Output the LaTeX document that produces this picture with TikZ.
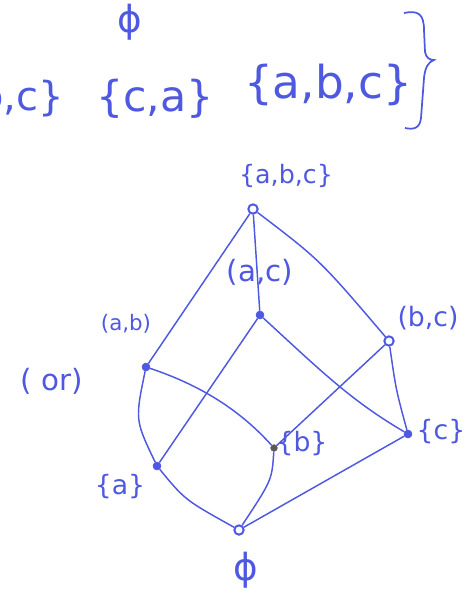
\documentclass[tikz,border=0pt]{standalone}
\usepackage{fontspec}
\setmainfont{DejaVu Sans}
\definecolor{hb}{RGB}{78,88,225}
\begin{document}
\begin{tikzpicture}[x=0.75pt,y=-0.75pt,
  lbl/.style={text=hb,inner sep=0pt},
  edge/.style={draw=hb,line width=1.1pt},
  dotn/.style={circle,fill=hb,draw=hb,minimum size=6pt,inner sep=0pt},
  ringn/.style={circle,fill=white,draw=hb,line width=1.5pt,minimum size=7pt,inner sep=0pt}]
\useasboundingbox (0,0) rectangle (469,606);
\clip (0,0) rectangle (469,606);
% top text
\node[lbl,font=\fontsize{28}{30}\selectfont] (phitop) at (130,22) {ϕ};
\node[lbl,font=\fontsize{30}{32}\selectfont,anchor=east] (sbc) at (64,99) {\{b,c\}};
\node[lbl,font=\fontsize{32}{34}\selectfont] (sca) at (155,99) {\{c,a\}};
\node[lbl,font=\fontsize{34}{36}\selectfont] (sabc) at (328,85) {\{a,b,c\}};
\draw[hb,line width=1.3pt] (404,13) .. controls (418,10) and (424,14) .. (424,30)
  -- (425,52) .. controls (426,58) and (430,60) .. (434,60)
  .. controls (428,62) and (425,68) .. (424,78) -- (421,118)
  .. controls (420,128) and (414,130) .. (405,128);
% nodes
\node[ringn] (top) at (253,209) {};
\node[dotn] (ac) at (260,315) {};
\node[dotn] (ab) at (146,367) {};
\node[ringn] (bc) at (389,341) {};
\node[dotn,fill=gray!70!black,draw=gray!70!black,minimum size=5pt] (b) at (274,448) {};
\node[dotn] (c) at (408,434) {};
\node[dotn] (a) at (157,466) {};
\node[ringn] (e) at (239,530) {};
% labels
\node[lbl,font=\fontsize{19}{20}\selectfont] (ltop) at (286,176) {\{a,b,c\}};
\node[lbl,font=\fontsize{22}{24}\selectfont] (lac) at (260,272) {(a,c)};
\node[lbl,font=\fontsize{16}{18}\selectfont] (lab) at (126,324) {(a,b)};
\node[lbl,font=\fontsize{22}{24}\selectfont] (lor) at (52,381) {( or)};
\node[lbl,font=\fontsize{20}{22}\selectfont] (lbc) at (428,318) {(b,c)};
\node[lbl,font=\fontsize{20}{22}\selectfont] (lb) at (302,444) {\{b\}};
\node[lbl,font=\fontsize{20}{22}\selectfont] (lc) at (441,432) {\{c\}};
\node[lbl,font=\fontsize{20}{22}\selectfont] (la) at (120,487) {\{a\}};
\node[lbl,font=\fontsize{28}{30}\selectfont] (le) at (246,570) {ϕ};
% edges
\draw[edge] (top) -- (ab);
\draw[edge] (top) -- (ac);
\draw[edge] (top) .. controls (320,260) .. (bc);
\draw[edge] (ab) .. controls (135,420) .. (a);
\draw[edge] (ab) .. controls (200,385) and (240,410) .. (b);
\draw[edge] (ac) -- (a);
\draw[edge] (ac) .. controls (320,370) and (350,400) .. (c);
\draw[edge] (bc) -- (b);
\draw[edge] (bc) .. controls (396,390) .. (c);
\draw[edge] (a) .. controls (185,500) .. (e);
\draw[edge] (b) .. controls (272,480) .. (e);
\draw[edge] (c) -- (e);
\end{tikzpicture}
\end{document}
